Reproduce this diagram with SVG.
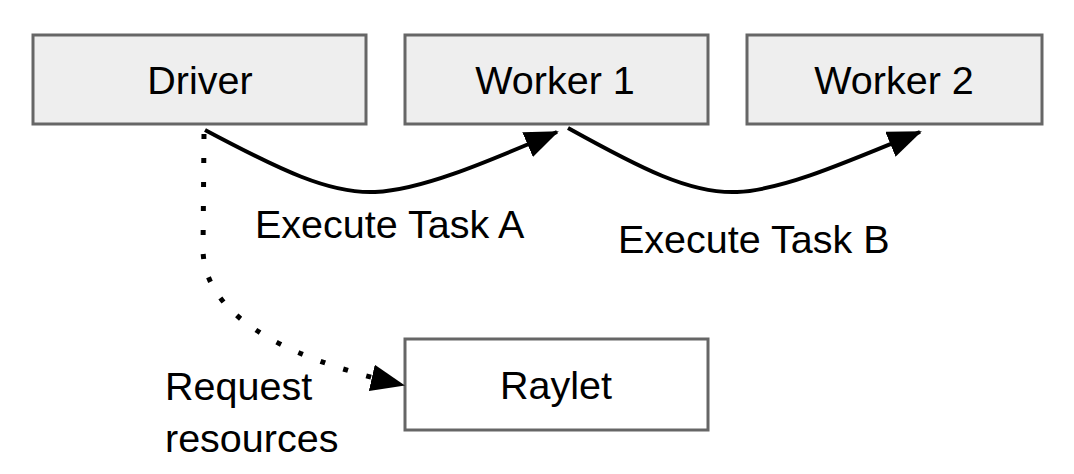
<svg xmlns="http://www.w3.org/2000/svg" width="1074" height="474" viewBox="0 0 1074 474">
<style>
.box{fill:#eeeeee;stroke:#666666;stroke-width:3}
.wbox{fill:#ffffff;stroke:#666666;stroke-width:3}
text{font-family:"Liberation Sans",Arial,sans-serif;font-size:39.5px;fill:#000}
.c{text-anchor:middle}
.solid{fill:none;stroke:#000;stroke-width:4}
.dot{fill:none;stroke:#000;stroke-width:5;stroke-dasharray:5 19}
</style>
<defs>
<marker id="ah" markerUnits="userSpaceOnUse" viewBox="0 0 34 27" refX="32" refY="13.5" markerWidth="34" markerHeight="27" orient="auto">
<path d="M0,0 L34,13.5 L0,27 z" fill="#000"/>
</marker>
</defs>
<rect width="1074" height="474" fill="#fff"/>
<g id="driver"><rect class="box" x="33" y="35" width="333" height="89"/><text class="c" x="200" y="94">Driver</text></g>
<g id="worker1"><rect class="box" x="405" y="35" width="303" height="89"/><text class="c" x="555" y="94">Worker 1</text></g>
<g id="worker2"><rect class="box" x="747" y="35" width="295" height="89"/><text class="c" x="894" y="94">Worker 2</text></g>
<g id="raylet"><rect class="wbox" x="405" y="339" width="303" height="91"/><text class="c" x="556" y="399">Raylet</text></g>
<g id="connectors">
<path class="solid" d="M205,130 C280,170 330,194 375,192 C420,190 480,165 557,132" marker-end="url(#ah)"/>
<path class="solid" d="M568,128 C640,168 690,194 737,192 C782,190 840,165 920,132" marker-end="url(#ah)"/>
<path class="dot" d="M204,134 L203,250 Q205,340 403,385" marker-end="url(#ah)"/>
</g>
<g id="labels">
<text x="255" y="238">Execute Task A</text>
<text x="618" y="253">Execute Task B</text>
<text x="165" y="400">Request</text>
<text x="165" y="452">resources</text>
</g>
</svg>
